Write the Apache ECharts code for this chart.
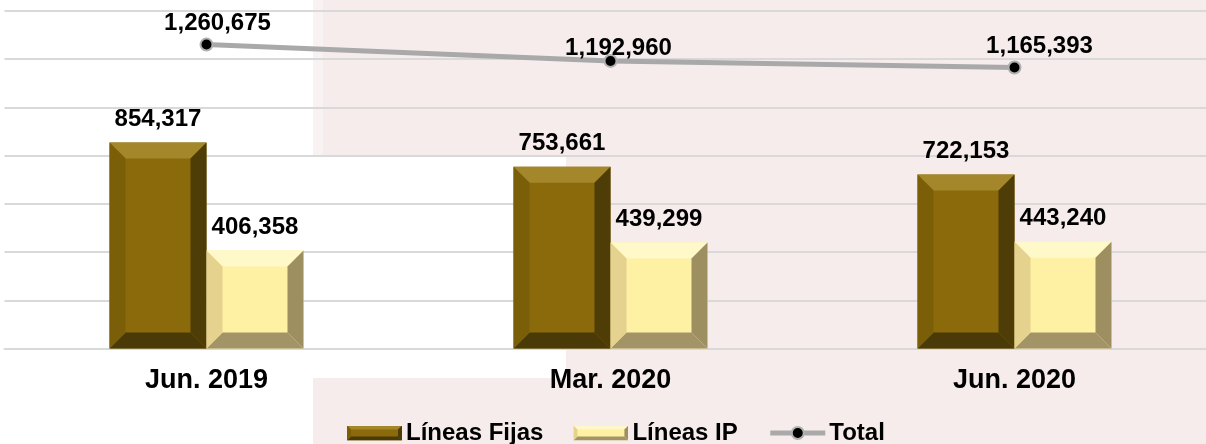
<!DOCTYPE html>
<html>
<head>
<meta charset="utf-8">
<script src="https://cdn.jsdelivr.net/npm/echarts@6/dist/echarts.min.js"></script>
<style>
  html, body { margin: 0; padding: 0; background: #ffffff; overflow: hidden; }
  /* the plot runs a little past the right edge in the original, so the canvas is wider than the window */
  #chart { width: 1218px; height: 444px; }
</style>
</head>
<body>
<div id="chart"></div>
<script>
// data
var categories = ['Jun. 2019', 'Mar. 2020', 'Jun. 2020'];
var lineasFijas = [854317, 753661, 722153];
var lineasIP = [406358, 439299, 443240];
var total = [1260675, 1192960, 1165393];
var yTicks = [0, 200000, 400000, 600000, 800000, 1000000, 1200000, 1400000];

// label nudges for the Total line (placed by hand in the original)
var totalLabelOffset = [[11, -21], [8, -13], [25, -21]];

var FONT = '"Liberation Sans", Arial, sans-serif';
var PINK = '#F6ECEC';
var BAR_W = 97;
var BEVEL = 16;

var fijasColors = { face: '#8A6A0A', top: '#A4872A', left: '#7B5E08', right: '#4E3D06', bottom: '#4A3A08' };
var ipColors = { face: '#FFF1A3', top: '#FFF8C8', left: '#E4D28E', right: '#9E8F60', bottom: '#A39468' };

function fmt(v) {
    return Number(v).toLocaleString('en-US');
}

function bevelSvg(c) {
    var svg = '<svg xmlns="http://www.w3.org/2000/svg" width="55" height="15">' +
        '<rect x="0" y="0" width="55" height="15" fill="' + c.face + '"/>' +
        '<polygon points="0,0 55,0 51,4 4,4" fill="' + c.top + '"/>' +
        '<polygon points="0,15 55,15 51,11 4,11" fill="' + c.bottom + '"/>' +
        '<polygon points="0,0 4,4 4,11 0,15" fill="' + c.left + '"/>' +
        '<polygon points="55,0 51,4 51,11 55,15" fill="' + c.right + '"/>' +
        '</svg>';
    return 'image://data:image/svg+xml;charset=utf-8,' + encodeURIComponent(svg);
}

// bevel frame drawn on top of each bar, positioned through the axes
function bevelRenderer(colors, side) {
    return function (params, api) {
        var cat = api.value(0);
        var top = api.coord([cat, api.value(1)]);
        var base = api.coord([cat, 0]);
        var cx = top[0] + side * BAR_W / 2;
        var x0 = cx - BAR_W / 2, x1 = cx + BAR_W / 2;
        var y0 = top[1], y1 = base[1];
        var b = Math.min(BEVEL, (y1 - y0) / 2);
        function poly(points, fill) {
            return { type: 'polygon', shape: { points: points }, style: { fill: fill } };
        }
        return {
            type: 'group',
            children: [
                poly([[x0, y0], [x1, y0], [x1 - b, y0 + b], [x0 + b, y0 + b]], colors.top),
                poly([[x0, y1], [x1, y1], [x1 - b, y1 - b], [x0 + b, y1 - b]], colors.bottom),
                poly([[x0, y0], [x0 + b, y0 + b], [x0 + b, y1 - b], [x0, y1]], colors.left),
                poly([[x1, y0], [x1 - b, y0 + b], [x1 - b, y1 - b], [x1, y1]], colors.right)
            ]
        };
    };
}

var chart = echarts.init(document.getElementById('chart'));

var barLabel = {
    show: true,
    position: 'top',
    distance: 11,
    color: '#000',
    fontFamily: FONT,
    fontWeight: 'bold',
    fontSize: 24,
    formatter: function (p) { return fmt(p.value); }
};

var option = {
    backgroundColor: '#ffffff',
    animation: false,
    graphic: [
        { type: 'rect', z: -10, silent: true, shape: { x: 313, y: 0, width: 905, height: 155 }, style: { fill: PINK } },
        { type: 'rect', z: -10, silent: true, shape: { x: 566, y: 155, width: 652, height: 223 }, style: { fill: PINK } },
        { type: 'rect', z: -10, silent: true, shape: { x: 313, y: 378, width: 905, height: 66 }, style: { fill: PINK } },
        { type: 'rect', z: -9, silent: true, shape: { x: 313, y: 0, width: 10, height: 155 }, style: { fill: '#F9F2F2' } }
    ],
    grid: { left: 4.5, right: 1.5, top: 11, bottom: 95.5 },
    legend: {
        left: 347,
        top: 421,
        padding: 0,
        itemWidth: 55,
        itemHeight: 15,
        itemGap: 30,
        textStyle: { color: '#000', fontFamily: FONT, fontWeight: 'bold', fontSize: 24, padding: [0, 0, 0, -1] },
        data: [
            { name: 'Líneas Fijas', icon: bevelSvg(fijasColors) },
            { name: 'Líneas IP', icon: bevelSvg(ipColors) },
            { name: 'Total', lineStyle: { width: 5, color: '#A9A9A9' } }
        ]
    },
    xAxis: {
        type: 'category',
        data: categories,
        axisTick: { show: false },
        axisLine: { lineStyle: { color: '#D9D9D9', width: 2 } },
        axisLabel: { color: '#000', fontFamily: FONT, fontWeight: 'bold', fontSize: 27, margin: 19 }
    },
    yAxis: {
        type: 'value',
        min: yTicks[0],
        max: yTicks[yTicks.length - 1],
        interval: yTicks[1] - yTicks[0],
        axisLabel: { show: false },
        axisLine: { show: false },
        axisTick: { show: false },
        splitLine: { lineStyle: { color: '#D9D9D9', width: 2 } }
    },
    series: [
        {
            name: 'Líneas Fijas',
            type: 'bar',
            data: lineasFijas,
            barWidth: BAR_W,
            barGap: '0%',
            itemStyle: { color: fijasColors.face },
            label: barLabel
        },
        {
            name: 'Líneas IP',
            type: 'bar',
            data: lineasIP,
            barWidth: BAR_W,
            itemStyle: { color: ipColors.face },
            label: barLabel
        },
        {
            name: 'bevelFijas',
            type: 'custom',
            silent: true,
            z: 3,
            renderItem: bevelRenderer(fijasColors, -1),
            data: lineasFijas.map(function (v, i) { return [i, v]; })
        },
        {
            name: 'bevelIP',
            type: 'custom',
            silent: true,
            z: 3,
            renderItem: bevelRenderer(ipColors, 1),
            data: lineasIP.map(function (v, i) { return [i, v]; })
        },
        {
            name: 'Total',
            type: 'line',
            z: 5,
            symbol: 'circle',
            symbolSize: 12,
            lineStyle: { color: '#A9A9A9', width: 5 },
            itemStyle: { color: '#000', borderColor: '#B0B0B0', borderWidth: 2 },
            data: total.map(function (v, i) {
                return { value: v, label: { offset: totalLabelOffset[i] } };
            }),
            label: {
                show: true,
                position: 'inside',
                color: '#000',
                fontFamily: FONT,
                fontWeight: 'bold',
                fontSize: 24,
                formatter: function (p) { return fmt(p.value); }
            }
        }
    ]
};

chart.setOption(option);
</script>
</body>
</html>
